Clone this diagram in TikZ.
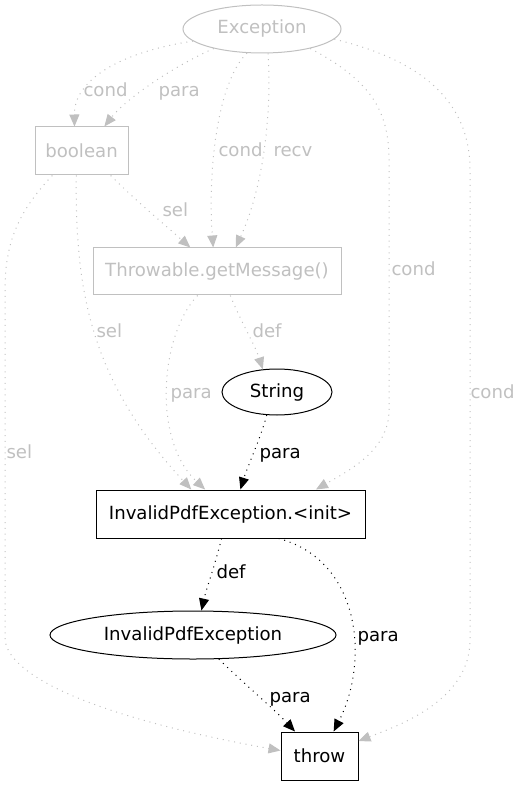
\documentclass[tikz,border=0pt]{standalone}
\usepackage{fontspec}
\setmainfont{DejaVu Sans}
\usetikzlibrary{arrows.meta,shapes.geometric}
\definecolor{lightgr}{RGB}{192,192,192}

\begin{document}
\begin{tikzpicture}[x=0.75pt,y=-0.75pt,
  font=\fontsize{13.6pt}{16pt}\selectfont,
  every node/.style={inner sep=0pt},
  box/.style={draw,rectangle,line width=0.75pt,minimum height=36pt},
  oval/.style={draw,ellipse,line width=0.75pt,minimum height=36pt},
  faded/.style={draw=lightgr,text=lightgr},
  dep/.style={line width=0.75pt,dash pattern=on 0.75pt off 3.6pt,-{Triangle[length=9pt,width=7.5pt]}},
  lbl/.style={anchor=base west}]
  \useasboundingbox (0,0) rectangle (520,787);

  \node[oval,faded,minimum width=118.5pt] (exc) at (262,29) {Exception};
  \node[box,faded,minimum width=69.75pt] (bool) at (81.5,151) {boolean};
  \node[box,faded,minimum width=186pt,minimum height=35.25pt] (getmsg) at (217,271.5) {Throwable.getMessage()};
  \node[oval,minimum width=82.5pt,minimum height=34.5pt] (str) at (277,392) {String};
  \node[box,minimum width=201.75pt] (init) at (230.5,514) {InvalidPdfException.<init>};
  \node[oval,minimum width=214.5pt] (ipe) at (193,635) {InvalidPdfException};
  \node[box,minimum width=57.75pt] (thr) at (319.5,756) {throw};

  \draw[dep,lightgr] (exc.190) .. controls (120,52) and (74,80) .. (bool.106) node[lbl] (l1) at (83,97) {cond};
  \draw[dep,lightgr] (exc.202) .. controls (170,68) and (125,100) .. (bool.47.5) node[lbl] (l2) at (158,97) {para};
  \draw[dep,lightgr] (exc.238) .. controls (215,85) and (208,180) .. (getmsg.99.7) node[lbl] (l3) at (218,157) {cond};
  \draw[dep,lightgr] (exc.284) .. controls (272,120) and (262,190) .. (getmsg.52.5) node[lbl] (l4) at (273,157) {recv};
  \draw[dep,lightgr] (exc.338) .. controls (370,80) and (389,110) .. (389,160) -- (389,410)
    .. controls (389,450) and (350,470) .. (init.16.4) node[lbl] (l5) at (391,276) {cond};
  \draw[dep,lightgr] (exc.352) .. controls (420,60) and (470,100) .. (470,170) -- (470,640)
    .. controls (470,700) and (400,725) .. (thr.21.3) node[lbl] (l6) at (470,398) {cond};
  \draw[dep,lightgr] (bool.320.4) .. controls (135,200) and (165,225) .. (getmsg.138.9) node[lbl] (l7) at (162,217) {sel};
  \draw[dep,lightgr] (bool.258) .. controls (75,290) and (90,380) .. (init.148) node[lbl] (l8) at (96,337) {sel};
  \draw[dep,lightgr] (bool.220.6) .. controls (20,210) and (5,240) .. (5,290) -- (5,640)
    .. controls (10,680) and (110,720) .. (thr.172.6) node[lbl] (l9) at (6,458) {sel};
  \draw[dep,lightgr] (getmsg.299) .. controls (240,320) and (255,345) .. (str.122.5) node[lbl] (l10) at (252,337) {def};
  \draw[dep,lightgr] (getmsg.231) .. controls (160,335) and (152,440) .. (init.136.7) node[lbl] (l11) at (170,398) {para};
  \draw[dep] (str.246.5) .. controls (260,440) and (248,465) .. (init.68.4) node[lbl] (l12) at (259,458) {para};
  \draw[dep] (init.250.5) .. controls (215,565) and (206,590) .. (ipe.71.6) node[lbl] (l13) at (216,578) {def};
  \draw[dep] (init.333.2) .. controls (360,560) and (370,660) .. (thr.60.6) node[lbl] (l14) at (357,641) {para};
  \draw[dep] (ipe.317.3) .. controls (240,680) and (275,710) .. (thr.135.6) node[lbl] (l15) at (269,702) {para};
\end{tikzpicture}
\end{document}
